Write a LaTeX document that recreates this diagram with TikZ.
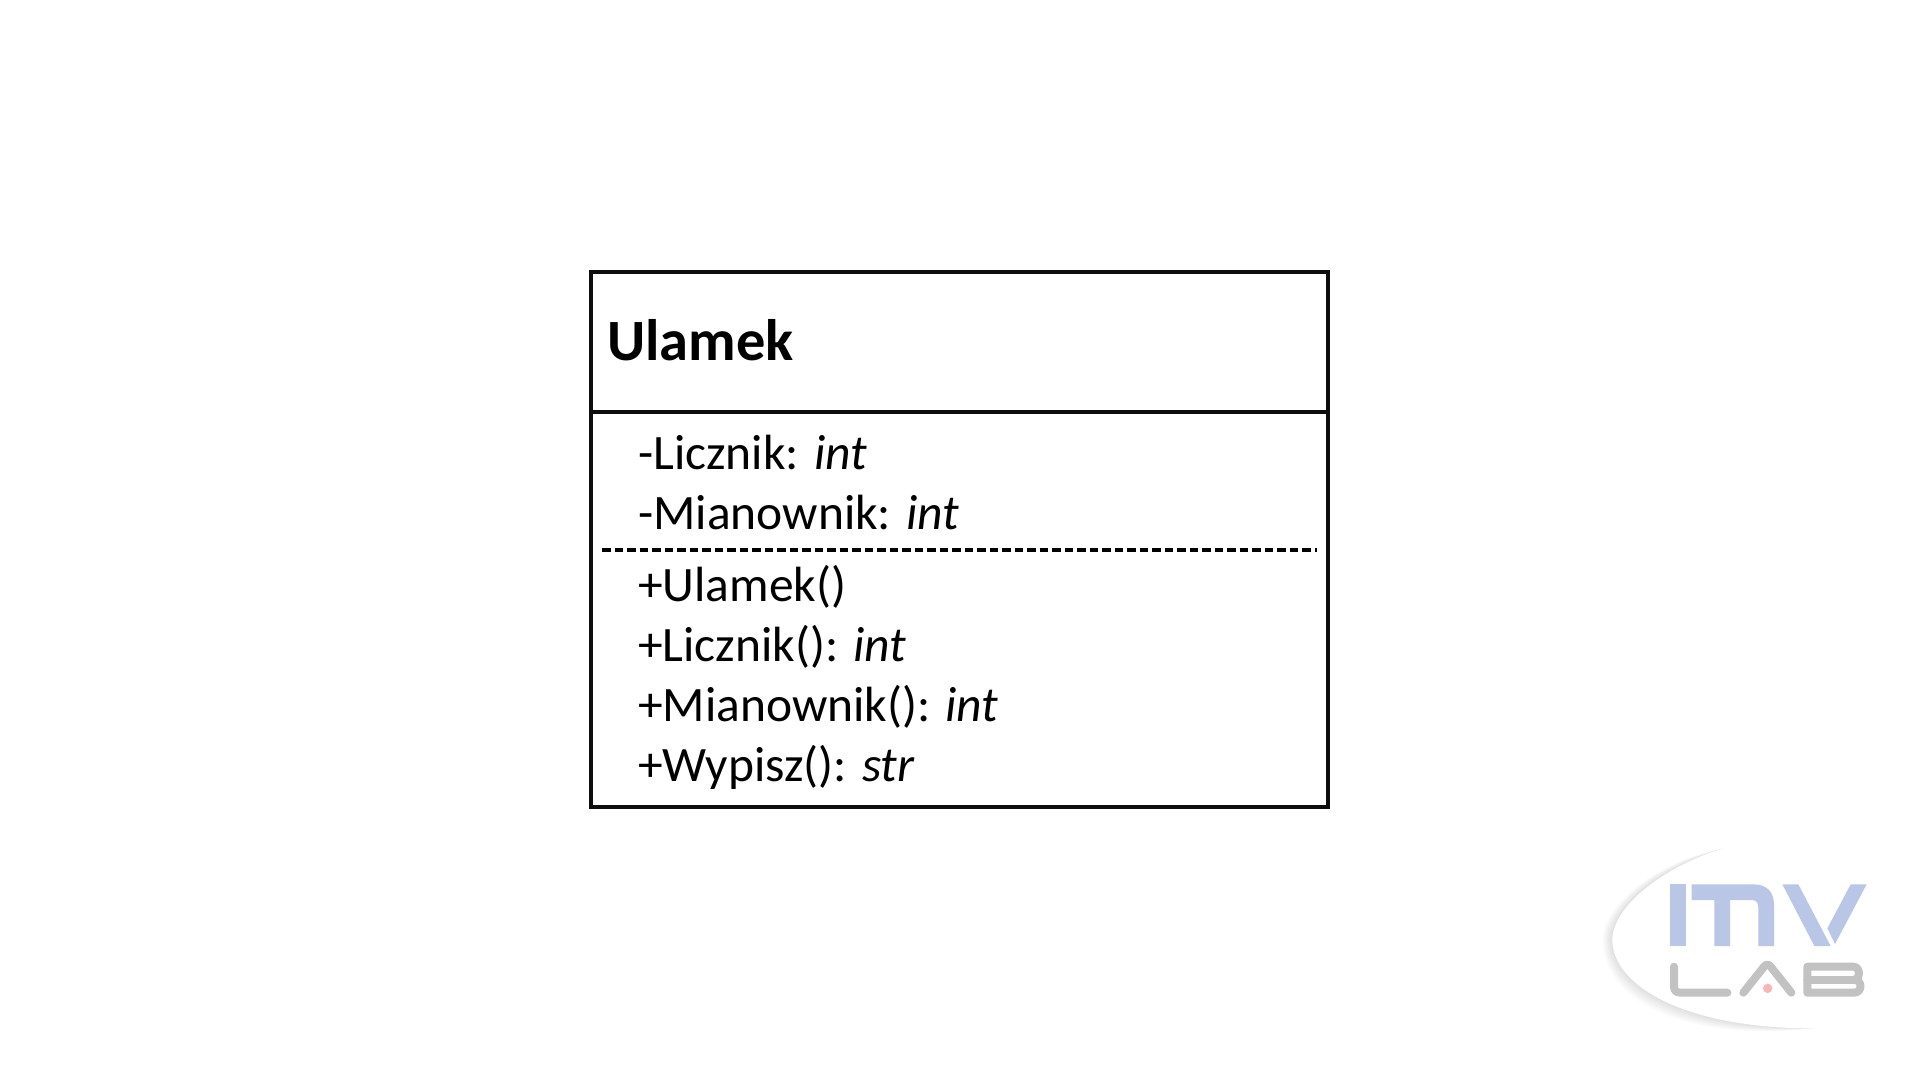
\documentclass[tikz,border=0pt]{standalone}
\usepackage{fontspec}
\setmainfont{Carlito}
\definecolor{logoblue}{HTML}{B9C6E6}
\definecolor{logogray}{HTML}{C2C2C2}
\definecolor{logodot}{HTML}{F9B4B8}
\tikzset{
ramka/.style={line width=3.1pt,color=black!95},
wiersz/.style={anchor=base west,inner sep=0pt,font=\fontsize{49.5}{58}\selectfont},
logolab/.style={line width=8pt,color=logogray,line cap=round,line join=round},
}
\begin{document}
\begin{tikzpicture}[x=1pt,y=-1pt]
\useasboundingbox (0,0) rectangle (1920,1080);
% class box
\draw[ramka] (591,272) rectangle (1328,807);
\draw[ramka] (591,412) -- (1328,412);
\draw[line width=3.2pt,dash pattern=on 8.5pt off 4pt] (602,550) -- (1317,550);
\node[wiersz,font=\fontsize{58.5}{64}\selectfont\bfseries] (nazwa) at (607,360) {Ulamek};
\foreach \nr/\y/\tekst in {a/469/{-Licznik: \textit{int}},b/529/{-Mianownik: \textit{int}},%
c/601/{+Ulamek()},d/661/{+Licznik(): \textit{int}},e/721/{+Mianownik(): \textit{int}},%
f/781/{+Wypisz(): \textit{str}}}
\node[wiersz] (wiersz\nr) at (638,\y) {\tekst};
% logo
\begin{scope}[shift={(1580,820)},x=1pt/3,y=-1pt/3]
\foreach \s in {30,27,24,21,18,15,12,9,6,3}
\fill[color=black,opacity=.012]
(430,85) .. controls ({250-\s},{140-\s/2}) and ({97-\s},260) .. ({97-\s},360)
.. controls ({97-\s},{490+1.5*\s}) and (300,{625+1.5*\s}) .. (700,625)
.. controls (500,560) and (300,400) .. (430,85) -- cycle;
\fill[color=white] (430,85) .. controls (250,140) and (97,260) .. (97,360)
.. controls (97,490) and (300,625) .. (700,625)
.. controls (800,560) and (700,300) .. (430,85) -- cycle;
\fill[color=logoblue] (270,193) -- (318,193) -- (318,378) -- (270,378) -- cycle;
\fill[color=logoblue] (335,193) -- (520,193) .. controls (560,193) and (582,215) .. (582,255)
-- (582,378) -- (535,378) -- (535,262) .. controls (535,248) and (528,240) .. (515,240)
-- (450,240) -- (450,378) -- (403,378) -- (403,240) -- (335,240) -- cycle;
\fill[color=logoblue] (607,193) -- (655,193) -- (752,378) -- (703,378) -- cycle;
\fill[color=logoblue] (812,193) -- (860,193) -- (765,372) -- (742,325) -- cycle;
\draw[logolab] (282,440) -- (282,500) .. controls (282,512) and (290,518) .. (302,518) -- (442,518);
\draw[logolab] (490,518) -- (552,440) .. controls (558,432) and (566,432) .. (572,440) -- (634,518);
\draw[logolab] (682,518) -- (682,440) -- (820,440) .. controls (842,440) and (842,478) .. (822,479)
.. controls (848,480) and (848,518) .. (822,518) -- cycle;
\draw[logolab] (682,479) -- (822,479);
\fill[color=logodot] (563,505) circle (14);
\end{scope}
\end{tikzpicture}
\end{document}
